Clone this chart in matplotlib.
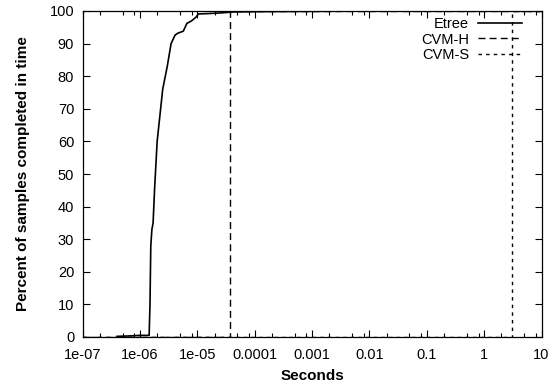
import numpy as np
import matplotlib
matplotlib.use('Agg')
import matplotlib.pyplot as plt
from matplotlib.ticker import LogLocator, NullFormatter

plt.rcParams['font.family'] = ['Liberation Sans', 'DejaVu Sans']

# Etree cumulative completion curve (seconds, percent)
etree_t = [4.0e-7, 6e-7, 8e-7, 1.0e-6, 1.45e-6, 1.5e-6, 1.55e-6, 1.62e-6, 1.7e-6,
           1.8e-6, 2.0e-6, 2.3e-6, 2.5e-6, 3.0e-6, 3.5e-6, 4.1e-6, 4.6e-6, 5.7e-6,
           6.6e-6, 8.0e-6, 9.5e-6, 1.05e-5, 1.5e-5, 2.5e-5, 4.2e-5, 1e-4, 1e-3, 1e-2]
etree_p = [0.2, 0.3, 0.4, 0.5, 0.5, 10, 28, 33, 35,
           45, 60, 70, 76, 83, 90, 92.6, 93.2, 93.8,
           96.2, 97, 98.1, 99.1, 99.2, 99.4, 99.7, 99.8, 99.9, 100]

# CVM-H and CVM-S: every sample takes about the same time
cvmh_t = [1e-7, 3.7e-5, 3.7e-5, 10]
cvmh_p = [0, 0, 100, 100]
cvms_t = [1e-7, 3.1, 3.1, 10]
cvms_p = [0, 0, 100, 100]

xticks = [1e-7, 1e-6, 1e-5, 1e-4, 1e-3, 1e-2, 1e-1, 1, 10]
xlabels = ['1e-07', '1e-06', '1e-05', '0.0001', '0.001', '0.01', '0.1', '1', '10']

fig = plt.figure(figsize=(5.58, 3.87), dpi=100)
ax = fig.add_axes([82.5/558, 50/387, 459/558, 326/387])

ax.plot(etree_t, etree_p, color='black', lw=1.2, label='Etree')
ax.plot(cvmh_t, cvmh_p, color='black', lw=1.0, dashes=(5, 3), label='CVM-H')
ax.plot(cvms_t, cvms_p, color='black', lw=1.0, dashes=(2.5, 3), label='CVM-S')

ax.set_xscale('log')
ax.set_xlim(1e-7, 10)
ax.set_ylim(0, 100)
ax.set_xticks(xticks)
ax.set_xticklabels(xlabels)
ax.xaxis.set_minor_locator(LogLocator(base=10, subs=(2, 5, 8), numticks=20))
ax.xaxis.set_minor_formatter(NullFormatter())
ax.set_yticks(np.arange(0, 101, 10))

ax.tick_params(which='both', direction='in', top=True, right=True, labelsize=10.5)
ax.tick_params(which='major', length=5, width=0.8)
ax.tick_params(which='minor', length=3, width=0.8)
ax.tick_params(axis='x', pad=8)
ax.tick_params(axis='y', pad=6)
for s in ax.spines.values():
    s.set_linewidth(0.9)

ax.set_xlabel('Seconds', fontsize=11, fontweight='bold', labelpad=5)
ax.set_ylabel('Percent of samples completed in time', fontsize=11, fontweight='bold', labelpad=14)

ax.legend(loc='upper right', bbox_to_anchor=(0.9695, 1.0), borderaxespad=0,
          frameon=False, markerfirst=False, fontsize=10.5,
          handlelength=3.0, labelspacing=0.12, handletextpad=0.6)

fig.savefig('out.png', dpi=100)
